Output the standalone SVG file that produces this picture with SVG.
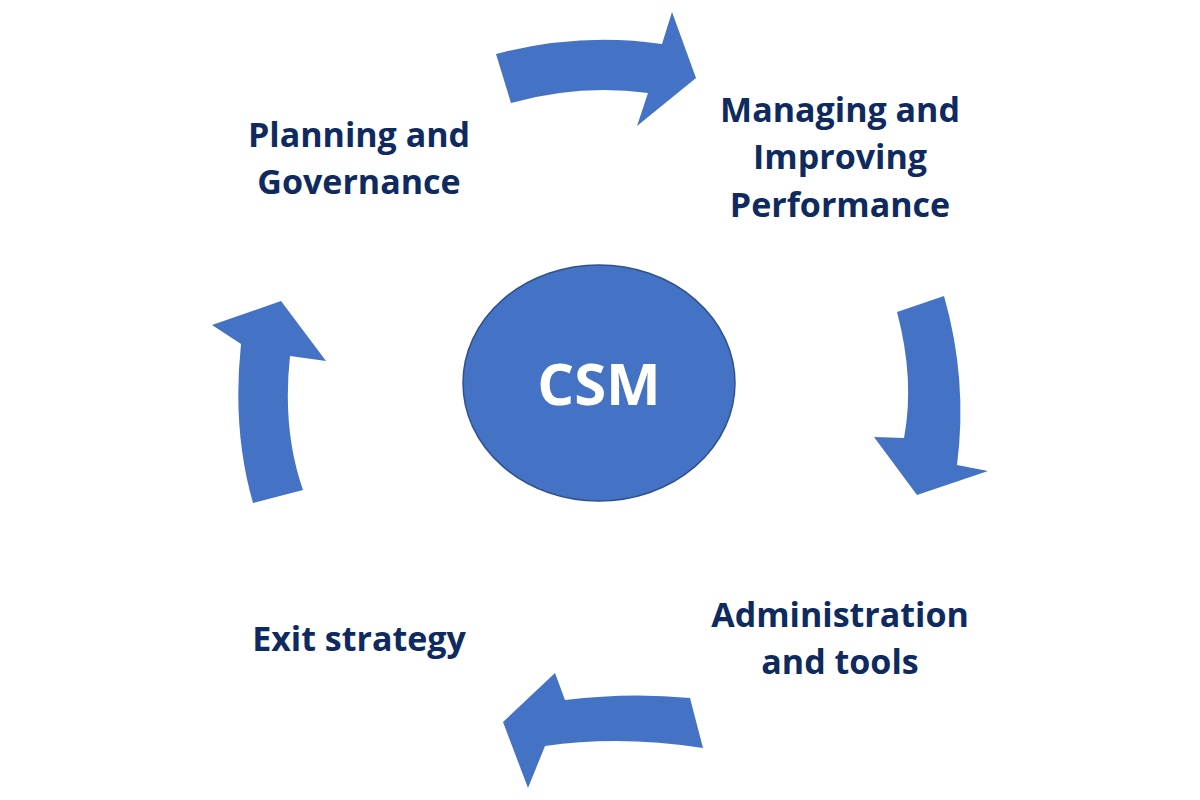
<svg xmlns="http://www.w3.org/2000/svg" width="1200" height="800" viewBox="0 0 1200 800">
<style>
.a{fill:#4472c4}
.t{font-family:"Open Sans","Liberation Sans",sans-serif;font-weight:bold;font-size:34px;fill:#0e2a5f;text-anchor:middle}
</style>
<rect width="1200" height="800" fill="#fff"/>
<g id="connectors">
<path class="a" d="M496,54 Q580,32 662,44 L672,12 L696,78 L637,126 L648,93 Q580,84 511,103 Z"/>
<path class="a" d="M897,312 L944,296 Q968,380 957,465 L988,471 L917,495 L874,437 L904,438 Q915,380 897,312 Z"/>
<path class="a" d="M690,698 Q630,692 565,700 L555,673 L503,722 L528,788 L545,746 Q620,735 703,748 Z"/>
<path class="a" d="M253,503 Q232,430 241,344 L212,325 L281,301 L326,361 L290,356 Q282,430 303,490 Z"/>
</g>
<g id="csm"><ellipse cx="599" cy="383" rx="136" ry="118" fill="#4472c4" stroke="#2f528f" stroke-width="1.5"/>
<text x="599" y="405" style="font-family:'Open Sans','Liberation Sans',sans-serif;font-weight:bold;font-size:58px;fill:#fff;text-anchor:middle">CSM</text></g>
<g id="planning"><text class="t" x="359" y="147">Planning and</text><text class="t" x="359" y="194">Governance</text></g>
<g id="managing"><text class="t" x="840" y="122">Managing and</text><text class="t" x="840" y="169">Improving</text><text class="t" x="840" y="217">Performance</text></g>
<g id="admin"><text class="t" x="840" y="627">Administration</text><text class="t" x="840" y="674">and tools</text></g>
<g id="exit"><text class="t" x="359" y="651">Exit strategy</text></g>
</svg>
